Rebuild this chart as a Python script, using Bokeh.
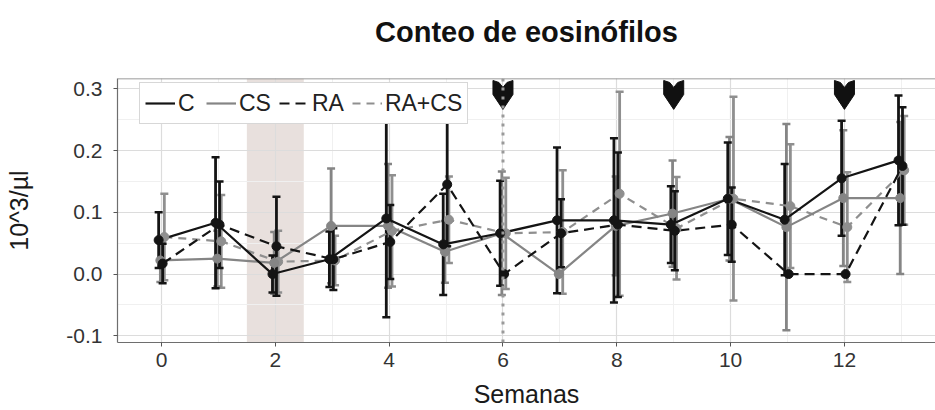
from bokeh.plotting import figure
from bokeh.models import (Range1d, SingleIntervalTicker, PrintfTickFormatter, Span,
                          BoxAnnotation, Legend, LegendItem, ColumnDataSource, Title)
from bokeh.embed import file_html
from bokeh.resources import INLINE

# ---------------- data ----------------
weeks = [0, 1, 2, 3, 4, 5, 6, 7, 8, 9, 10, 11, 12, 13]

c_mean = [0.055, 0.083, 0.000, 0.024, 0.090, 0.048, 0.066, 0.087, 0.087, 0.080, 0.122, 0.088, 0.155, 0.184]
c_sd   = [0.045, 0.106, 0.030, 0.045, 0.160, 0.082, 0.085, 0.118, 0.133, 0.062, 0.091, 0.090, 0.093, 0.105]

cs_mean = [0.022, 0.025, 0.018, 0.078, 0.078, 0.036, 0.066, 0.000, 0.078, 0.098, 0.122, 0.076, 0.123, 0.123]
cs_sd   = [0.035, 0.045, 0.050, 0.093, 0.100, 0.050, 0.100, 0.000, 0.080, 0.086, 0.100, 0.167, 0.110, 0.123]

ra_mean = [0.017, 0.080, 0.045, 0.024, 0.052, 0.145, 0.000, 0.066, 0.080, 0.070, 0.080, 0.000, 0.000, 0.175]
ra_sd   = [0.032, 0.070, 0.080, 0.050, 0.060, 0.100, 0.000, 0.055, 0.117, 0.064, 0.060, 0.000, 0.000, 0.095]

racs_mean = [0.060, 0.053, 0.020, 0.022, 0.070, 0.088, 0.066, 0.068, 0.130, 0.074, 0.122, 0.110, 0.076, 0.168]
racs_sd   = [0.070, 0.075, 0.050, 0.040, 0.090, 0.070, 0.090, 0.100, 0.165, 0.083, 0.165, 0.100, 0.089, 0.088]

group_names = ["C", "CS", "RA", "RA+CS"]
title_text = "Conteo de eosinófilos"
shade_start, shade_end = 1.5, 2.5
dotted_week = 6
arrow_weeks = [6, 9, 12]

# ---------------- layout ----------------
W, H = 935, 410
BL, BR, BT, BB = 117, 0, 78, 67
x0, x1 = -0.773, 13.60
y0, y1 = -0.1108, 0.3166
frame_w = W - BL - BR
frame_h = H - BT - BB
ux = (x1 - x0) / frame_w
uy = (y1 - y0) / frame_h

p = figure(width=W, height=H, output_backend="svg", toolbar_location=None,
           x_range=Range1d(x0, x1), y_range=Range1d(y0, y1),
           min_border_left=BL, min_border_right=BR, min_border_top=BT, min_border_bottom=BB)
p.background_fill_color = "white"
p.border_fill_color = "white"
p.outline_line_color = None

# real title + spacer title between it and the frame
p.title.text = title_text
p.title.align = "center"
p.title.text_font_size = "29px"
p.title.text_font = "Liberation Sans"
p.title.text_font_style = "bold"
p.title.text_color = "#111111"
p.add_layout(Title(text=" ", text_font_size="12px"), "above")

# axes
p.xaxis.ticker = SingleIntervalTicker(interval=2, num_minor_ticks=2)
p.yaxis.ticker = SingleIntervalTicker(interval=0.1, num_minor_ticks=2)
p.yaxis.formatter = PrintfTickFormatter(format="%.1f")
for ax in (p.xaxis, p.yaxis):
    ax.axis_line_color = "#6e6e6e"
    ax.axis_line_width = 1.2
    ax.major_tick_line_color = "#555555"
    ax.major_tick_out = 4
    ax.major_tick_in = 0
    ax.minor_tick_line_color = None
    ax.major_label_text_font = "Liberation Sans"
    ax.major_label_text_font_size = "21px"
    ax.major_label_text_color = "#333333"
    ax.axis_label_text_font = "Liberation Sans"
    ax.axis_label_text_font_size = "25px"
    ax.axis_label_text_font_style = "normal"
    ax.axis_label_text_color = "#1a1a1a"
p.xaxis.axis_label = "Semanas"
p.yaxis.axis_label = "10^3/\u00b5l"
p.xaxis.major_label_standoff = 6
p.xaxis.axis_label_standoff = 10
p.yaxis.major_label_standoff = 11
p.yaxis.axis_label_standoff = 30

# grid
for g in (p.xgrid, p.ygrid):
    g.grid_line_color = "#dcdcdc"
    g.grid_line_width = 1.2
    g.minor_grid_line_color = "#f0f0f0"
    g.minor_grid_line_width = 1.0

# top border line
p.add_layout(Span(location=y1, dimension="width", line_color="#7a7a7a", line_width=1.5))

# shaded week
p.add_layout(BoxAnnotation(left=shade_start, right=shade_end, fill_color="#e8e0dd",
                           fill_alpha=1.0, line_color=None, level="image"))

# dotted vertical line
p.add_layout(Span(location=dotted_week, dimension="height", line_color="#9a9a9a",
                  line_width=3, line_dash="3 6"))

# ---------------- series ----------------
styles = {
    "C":     dict(mean=c_mean, sd=c_sd, color="#141414", dash="solid", dodge=-0.05),
    "CS":    dict(mean=cs_mean, sd=cs_sd, color="#858585", dash="solid", dodge=-0.02),
    "RA":    dict(mean=ra_mean, sd=ra_sd, color="#141414", dash="10 6", dodge=0.02),
    "RA+CS": dict(mean=racs_mean, sd=racs_sd, color="#8f8f8f", dash="8 6", dodge=0.05),
}
draw_order = ["RA+CS", "CS", "RA", "C"]

sources = {}
for name in group_names:
    s = styles[name]
    xs = [w + s["dodge"] for w in weeks]
    sources[name] = ColumnDataSource(dict(
        x=xs, y=s["mean"],
        lo=[m - d for m, d in zip(s["mean"], s["sd"])],
        hi=[m + d for m, d in zip(s["mean"], s["sd"])]))

# error bars
for name in draw_order:
    s = styles[name]
    src = sources[name]
    p.segment(x0="x", y0="lo", x1="x", y1="hi", source=src, line_color=s["color"], line_width=2.8)
    p.scatter(x="x", y="lo", source=src, marker="dash", size=8, line_color=s["color"], line_width=2.5)
    p.scatter(x="x", y="hi", source=src, marker="dash", size=8, line_color=s["color"], line_width=2.5)

line_r = {}
for name in draw_order:
    s = styles[name]
    line_r[name] = p.line(x="x", y="y", source=sources[name], line_color=s["color"],
                          line_width=2.2, line_dash=s["dash"])
for name in draw_order:
    s = styles[name]
    p.scatter(x="x", y="y", source=sources[name], marker="circle", size=9,
              fill_color=s["color"], line_color=s["color"])

# arrow markers at top (shape defined in pixels, converted to data units)
shape = [(-10, 2), (-4, 4), (0, 9), (4, 4), (10, 2), (10, 16), (0, 31), (-10, 16)]
axs, ays = [], []
for w in arrow_weeks:
    axs.append([w + dx * ux for dx, dy in shape])
    ays.append([y1 - dy * uy for dx, dy in shape])
p.patches(xs=axs, ys=ays, fill_color="#111111", line_color="#111111", line_width=1)

# legend
items = [LegendItem(label=n, renderers=[line_r[n]]) for n in group_names]
legend = Legend(items=items, orientation="horizontal", location=(22, 218),
                label_text_font="Liberation Sans", label_text_font_size="23px",
                label_text_color="#222222", glyph_width=30, glyph_height=30,
                label_standoff=3, spacing=8, padding=5, margin=0,
                border_line_color="#b0b0b0", border_line_width=1.2,
                background_fill_color="white", background_fill_alpha=1.0)
p.add_layout(legend, "center")

open("out.html", "w").write(file_html(p, INLINE))
